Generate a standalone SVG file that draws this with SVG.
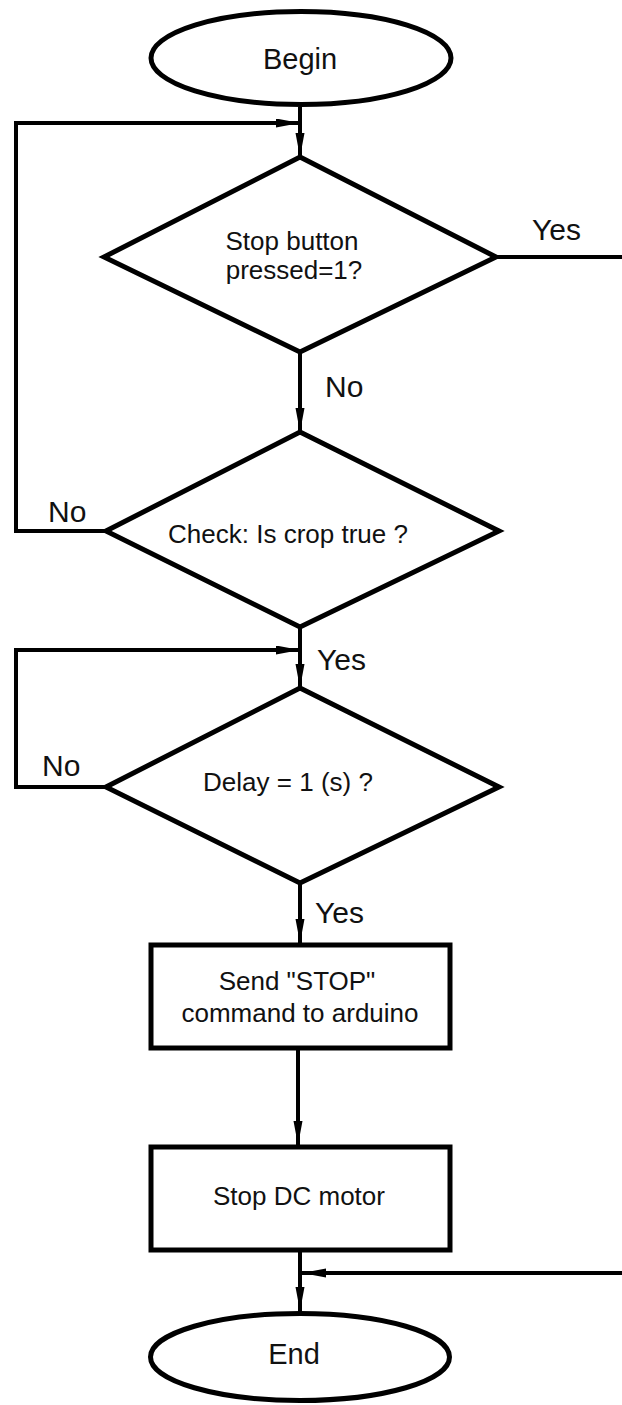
<svg xmlns="http://www.w3.org/2000/svg" width="622" height="1405" viewBox="0 0 622 1405">
<style>
.shape{fill:#fff;stroke:#000;stroke-width:5;stroke-linejoin:miter}
.conn{fill:none;stroke:#000;stroke-width:4}
.t{font-family:"Liberation Sans",Arial,sans-serif;font-size:26px;fill:#111;text-anchor:middle}
.big{font-size:29px}
.lbl{font-family:"Liberation Sans",Arial,sans-serif;font-size:30px;fill:#111}
</style>
<defs>
<marker id="arr" markerUnits="userSpaceOnUse" markerWidth="26" markerHeight="10" refX="24" refY="4.5" orient="auto">
<path d="M0,0 L24,4.5 L0,9 Z" fill="#000"/>
</marker>
</defs>
<rect width="622" height="1405" fill="#fff"/>
<g id="connectors">
<path class="conn" d="M300,107 V157" marker-end="url(#arr)"/>
<path class="conn" d="M106,531 H16 V123 H300" marker-end="url(#arr)"/>
<path class="conn" d="M300,352 V432" marker-end="url(#arr)"/>
<path class="conn" d="M496,257 H640 V1273 H302" marker-end="url(#arr)"/>
<path class="conn" d="M300,627 V688" marker-end="url(#arr)"/>
<path class="conn" d="M106,787 H16 V650 H300" marker-end="url(#arr)"/>
<path class="conn" d="M300,883 V943" marker-end="url(#arr)"/>
<path class="conn" d="M298,1050 V1145" marker-end="url(#arr)"/>
<path class="conn" d="M300,1252 V1311" marker-end="url(#arr)"/>
<text class="lbl" x="532" y="240">Yes</text>
<text class="lbl" x="325" y="397">No</text>
<text class="lbl" x="48" y="522">No</text>
<text class="lbl" x="317" y="670">Yes</text>
<text class="lbl" x="42" y="776">No</text>
<text class="lbl" x="315" y="923">Yes</text>
</g>
<g id="begin">
<ellipse class="shape" cx="301" cy="58" rx="150" ry="46.5"/>
<text class="t big" x="300" y="69">Begin</text>
</g>
<g id="d1">
<polygon class="shape" points="300,157 496,257 300,352 104,257"/>
<text class="t" x="292" y="250">Stop button</text>
<text class="t" x="294" y="279">pressed=1?</text>
</g>
<g id="d2">
<polygon class="shape" points="300,432 499,531 300,627 106,531"/>
<text class="t" x="288" y="543">Check: Is crop true ?</text>
</g>
<g id="d3">
<polygon class="shape" points="300,688 499,787 300,883 106,787"/>
<text class="t" x="288" y="791">Delay = 1 (s) ?</text>
</g>
<g id="send">
<rect class="shape" x="151" y="945" width="299" height="103"/>
<text class="t" x="297" y="990">Send "STOP"</text>
<text class="t" x="300" y="1022">command to arduino</text>
</g>
<g id="stopmotor">
<rect class="shape" x="151" y="1147" width="299" height="103"/>
<text class="t" x="299" y="1205">Stop DC motor</text>
</g>
<g id="end">
<ellipse class="shape" cx="300" cy="1357" rx="149.5" ry="43.5"/>
<text class="t big" x="294" y="1364">End</text>
</g>
</svg>
